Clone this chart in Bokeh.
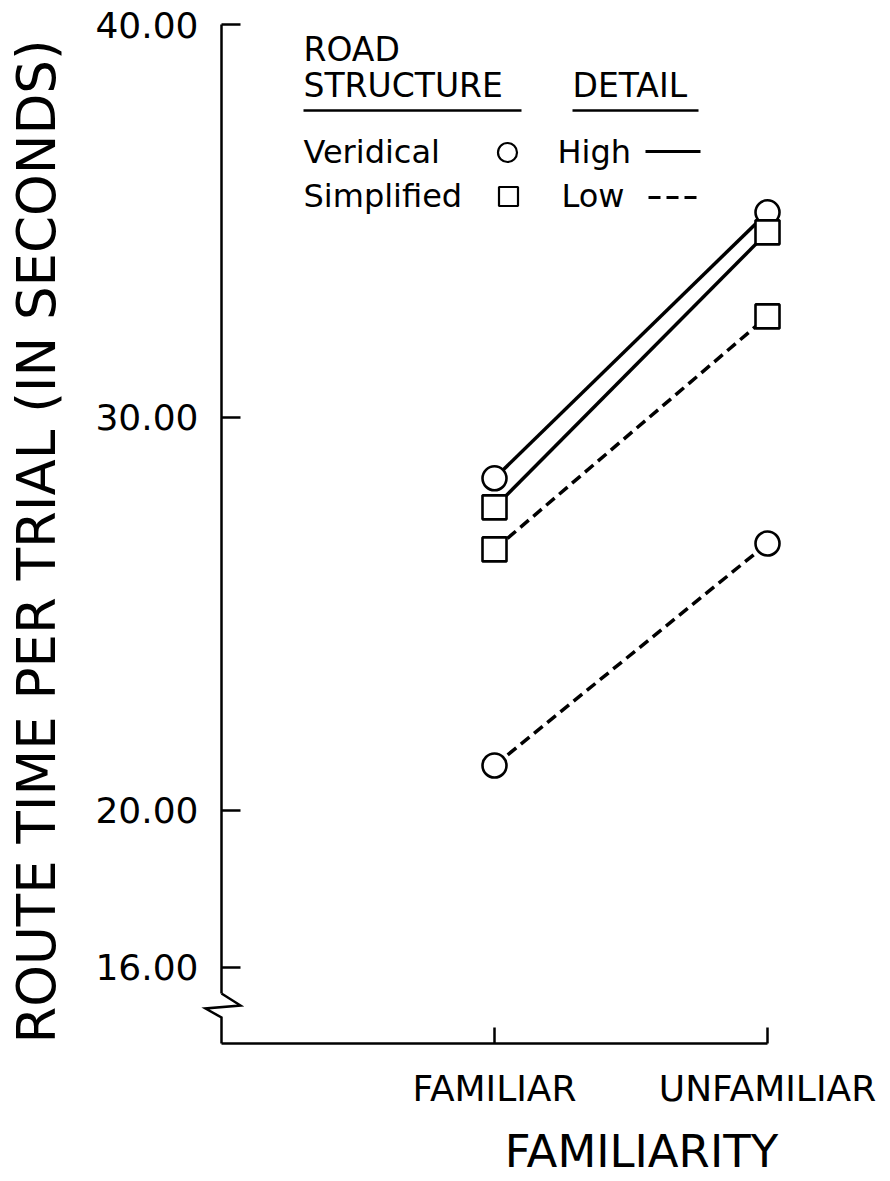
import numpy as np
from bokeh.plotting import figure
from bokeh.models import FixedTicker, Label, Range1d, PrintfTickFormatter
from bokeh.core.properties import value
from bokeh.embed import file_html
from bokeh.resources import INLINE

# ---------------- data ----------------
categories = ["FAMILIAR", "UNFAMILIAR"]
veridical_high = [28.45, 35.22]
simplified_high = [27.71, 34.71]
simplified_low = [26.64, 32.57]
veridical_low = [21.14, 26.79]
y_ticks = [16, 20, 30, 40]

x_pos = [i + 1 for i in range(len(categories))]

# ---------------- layout ----------------
FONT = "DejaVu Sans"
W, H = 890, 1181
AXIS_PX, TOP_TICK_PX, BASE_PX = 221, 24, 1043
SX, SY = 273.0, 39.29          # pixels per data unit
X_START = -AXIS_PX / SX
X_END = X_START + W / SX
Y_END = 40 + TOP_TICK_PX / SY
Y_START = Y_END - H / SY
Y_BASE = Y_END - BASE_PX / SY
TXT_DY = 13   # correction for text baseline placement


def px2x(px):
    return X_START + px / SX


def py2y(py):
    return Y_END - py / SY


p = figure(width=W, height=H,
           x_range=Range1d(X_START, X_END), y_range=Range1d(Y_START, Y_END),
           output_backend="svg", toolbar_location=None, min_border=0)
p.outline_line_color = None
p.grid.visible = False
p.background_fill_color = "white"
p.border_fill_color = "white"

# y axis
ya = p.yaxis[0]
ya.fixed_location = 0
ya.ticker = FixedTicker(ticks=y_ticks)
ya.formatter = PrintfTickFormatter(format="%.2f")
ya.bounds = (py2y(993), 40)
ya.axis_line_width = 2.5
ya.axis_line_color = "black"
ya.major_tick_in = 19
ya.major_tick_out = 0
ya.major_tick_line_width = 2.5
ya.major_tick_line_color = "black"
ya.minor_tick_line_color = None
ya.major_label_standoff = 23
ya.major_label_text_font = FONT
ya.major_label_text_font_size = "36px"
ya.major_label_text_color = "black"

# x axis
xa = p.xaxis[0]
xa.fixed_location = Y_BASE
xa.ticker = FixedTicker(ticks=x_pos)
xa.major_label_overrides = {x: c for x, c in zip(x_pos, categories)}
xa.bounds = (0, x_pos[-1])
xa.axis_line_width = 2.5
xa.axis_line_color = "black"
xa.major_tick_in = 16
xa.major_tick_out = 0
xa.major_tick_line_width = 2.5
xa.major_tick_line_color = "black"
xa.minor_tick_line_color = None
xa.major_label_standoff = 24
xa.major_label_text_font = FONT
xa.major_label_text_font_size = "36px"
xa.major_label_text_color = "black"

# axis break
p.line([0, px2x(240), px2x(205), 0, 0],
       [py2y(993), py2y(1005), py2y(1008), py2y(1017), Y_BASE],
       line_width=2.5, color="black", line_join="miter")

# series lines
p.line(x_pos, veridical_high, line_width=3.5, color="black")
p.line(x_pos, simplified_high, line_width=3.5, color="black")
p.line(x_pos, simplified_low, line_width=3.5, color="black", line_dash="11 6")
p.line(x_pos, veridical_low, line_width=3.5, color="black", line_dash="11 6")

# markers
for vals, mk in [(veridical_high, "circle"), (simplified_high, "square"),
                 (simplified_low, "square"), (veridical_low, "circle")]:
    p.scatter(x_pos, vals, marker=mk, size=24, fill_color="white",
              line_color="black", line_width=2.6)

# legend (custom)
p.text(x=[px2x(303), px2x(303), px2x(572)],
       y=[py2y(62 - TXT_DY), py2y(98 - TXT_DY), py2y(98 - TXT_DY)],
       text=["ROAD", "STRUCTURE", "DETAIL"],
       text_font=value(FONT), text_font_size="33px", text_color="black",
       text_align="left", text_baseline="alphabetic")
p.segment(x0=[px2x(303), px2x(572)], y0=[py2y(110), py2y(110)],
          x1=[px2x(521), px2x(698)], y1=[py2y(110), py2y(110)],
          line_width=2.5, color="black")
p.text(x=[px2x(303), px2x(303), px2x(557), px2x(561)],
       y=[py2y(164 - TXT_DY), py2y(208 - TXT_DY), py2y(164 - TXT_DY), py2y(208 - TXT_DY)],
       text=["Veridical", "Simplified", "High", "Low"],
       text_font=value(FONT), text_font_size="32px", text_color="black",
       text_align="left", text_baseline="alphabetic")
p.scatter([px2x(507)], [py2y(152)], marker="circle", size=19,
          fill_color="white", line_color="black", line_width=2.2)
p.scatter([px2x(508)], [py2y(196)], marker="square", size=19,
          fill_color="white", line_color="black", line_width=2.2)
p.line([px2x(645), px2x(700)], [py2y(151), py2y(151)], line_width=3, color="black")
p.line([px2x(648), px2x(702)], [py2y(197), py2y(197)], line_width=3, color="black",
       line_dash="12 6")

# axis titles
p.add_layout(Label(x=px2x(36), y=py2y(541), text="ROUTE TIME PER TRIAL (IN SECONDS)",
                   angle=np.pi / 2, text_align="center", text_baseline="alphabetic",
                   text_font=FONT, text_font_size="53px", text_color="black"))
p.add_layout(Label(x=px2x(641), y=py2y(1151), text="FAMILIARITY",
                   text_align="center", text_baseline="alphabetic",
                   text_font=FONT, text_font_size="45px", text_color="black"))

open("out.html", "w").write(file_html(p, INLINE))
